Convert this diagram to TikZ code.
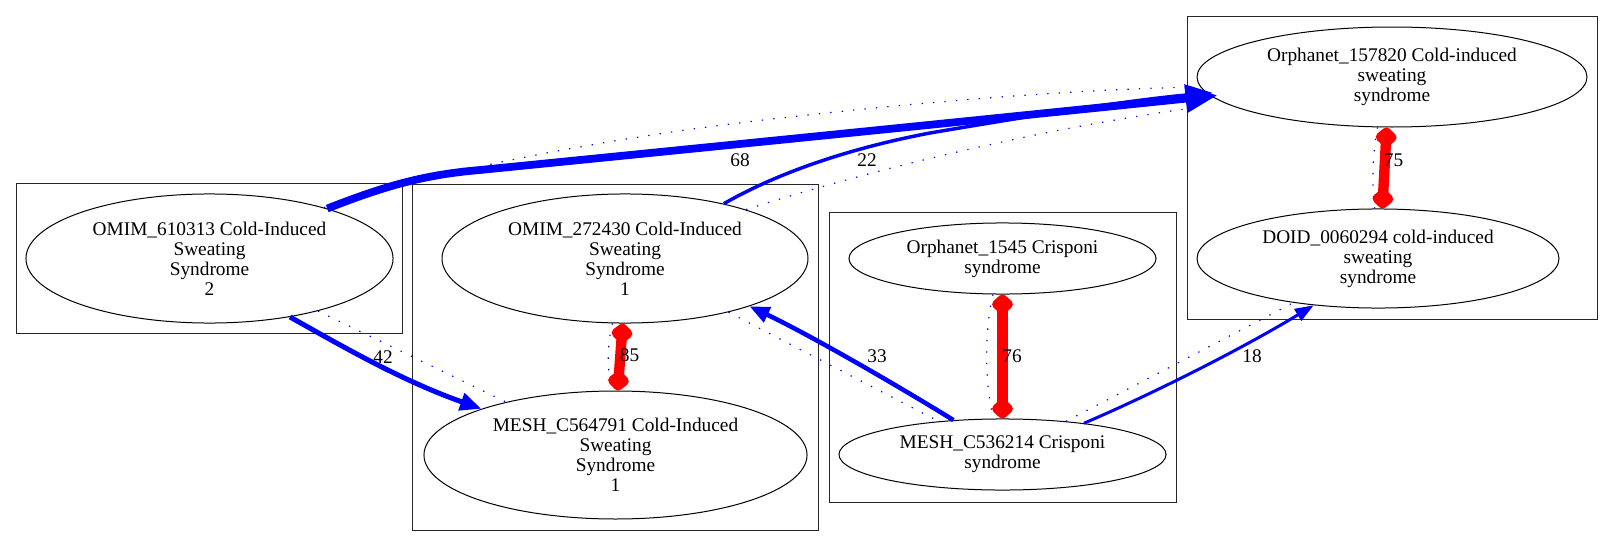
\documentclass[tikz,border=0pt]{standalone}
\usepackage{fontspec}
\setmainfont{Liberation Serif}
\usetikzlibrary{arrows.meta,shapes.geometric}

\tikzset{every picture/.style={line width=0.75pt}}
\tikzset{
term/.style={draw, ellipse, inner sep=0pt, align=center, font=\fontsize{14.5}{15}\selectfont},
cluster/.style={draw=black!85},
wlab/.style={inner sep=0.75pt, font=\fontsize{14.5}{15}\selectfont},
simlink/.style={blue, line width=0.9pt, dash pattern=on 1pt off 7.6pt},
maplink/.style={blue},
xref/.style={red, line width=7.8pt, {Diamond[length=17pt,width=19pt,round]}-{Diamond[length=17pt,width=19pt,round]}}
}

\begin{document}
\begin{tikzpicture}[x=0.75pt,y=0.75pt,yscale=-1,xscale=1]
\useasboundingbox (0,0) rectangle (1613,546);

%Shape: Rectangle (clusters)
\draw [cluster] (16,183) rectangle (402,333);
\draw [cluster] (412,184) rectangle (818,530);
\draw [cluster] (829,212) rectangle (1176,502);
\draw [cluster] (1187,16) rectangle (1597,319);

%Shape: Ellipse
\node [term, minimum width=275.3pt, minimum height=96.8pt] (omimA) at (209.5,258.5) {OMIM\_610313 Cold-Induced\\Sweating\\Syndrome\\2};
\node [term, minimum width=274.5pt, minimum height=96.8pt] (omimB) at (625,258.5) {OMIM\_272430 Cold-Induced\\Sweating\\Syndrome\\1};
\node [term, minimum width=287.3pt, minimum height=96pt] (meshA) at (615.5,455) {MESH\_C564791 Cold-Induced\\Sweating\\Syndrome\\1};
\node [term, minimum width=230.3pt, minimum height=53.3pt] (orphB) at (1002.5,258.5) {Orphanet\_1545 Crisponi\\syndrome};
\node [term, minimum width=245.3pt, minimum height=53.3pt] (meshB) at (1002.5,454.5) {MESH\_C536214 Crisponi\\syndrome};
\node [term, minimum width=292.5pt, minimum height=75pt] (orphA) at (1392,77) {Orphanet\_157820 Cold-induced\\sweating\\syndrome};
\node [term, minimum width=271.5pt, minimum height=74.3pt] (doid) at (1378,258.5) {DOID\_0060294 cold-induced\\sweating\\syndrome};

%Dotted Lines
\draw [simlink, shorten >=8pt] (omimA.24) .. controls (410,180) and (540,150) .. (700,128) .. controls (850,108) and (1050,90) .. (orphA.183);
\draw [simlink, shorten >=27pt] (omimB.22) .. controls (850,176) and (1020,132) .. (orphA.189);
\draw [simlink] (omimA) -- (meshA);
\draw [simlink] (omimB) -- (meshB);
\draw [simlink] (meshB) -- (doid);
\draw [simlink] (omimB.259) .. controls (607,345) and (607,370) .. (meshA.93);
\draw [simlink] (orphB.255) .. controls (984.5,330) and (984.5,385) .. (meshB.104);
\draw [simlink] (orphA.254) .. controls (1372,155) and (1372,185) .. (doid.94);

%Curve Lines
\draw [maplink, line width=5.8pt, shorten >=-5pt, -{Triangle[length=24pt,width=20pt]}] (omimA.23) .. controls (380,188) and (420,175) .. (480,170) .. controls (700,148) and (1000,118) .. (orphA.186);
\draw [maplink, line width=2.6pt, shorten >=-4pt, -{Triangle[length=17pt,width=13pt]}] (omimB.29) .. controls (770,177) and (840,150) .. (930,133) .. controls (1030,116) and (1130,100) .. (orphA.185);
\draw [maplink, line width=3.75pt, -{Triangle[length=16pt,width=13pt]}] (omimA.324) .. controls (340,345) and (400,380) .. (meshA.161);
\draw [maplink, line width=3.4pt, -{Triangle[length=15pt,width=12pt]}] (meshB.145) .. controls (900,387) and (810,335) .. (omimB.339);
\draw [maplink, line width=2.25pt, -{Triangle[length=14pt,width=10pt]}] (meshB.21) .. controls (1150,395) and (1240,350) .. (doid.216);

%Straight Lines
\draw [xref] (omimB.268) -- (meshA.88);
\draw [xref] (orphB.south) -- (meshB.north);
\draw [xref] (orphA.264) -- (doid.85);

% Text Node
\node [wlab] (l68) at (740,160) {68};
\node [wlab] (l22) at (867,160) {22};
\node [wlab] (l42) at (383,357) {42};
\node [wlab] (l85) at (629.5,355) {85};
\node [wlab] (l33) at (877,356) {33};
\node [wlab] (l76) at (1012,356) {76};
\node [wlab] (l18) at (1252,356) {18};
\node [wlab] (l75) at (1393.5,160) {75};

\end{tikzpicture}
\end{document}
